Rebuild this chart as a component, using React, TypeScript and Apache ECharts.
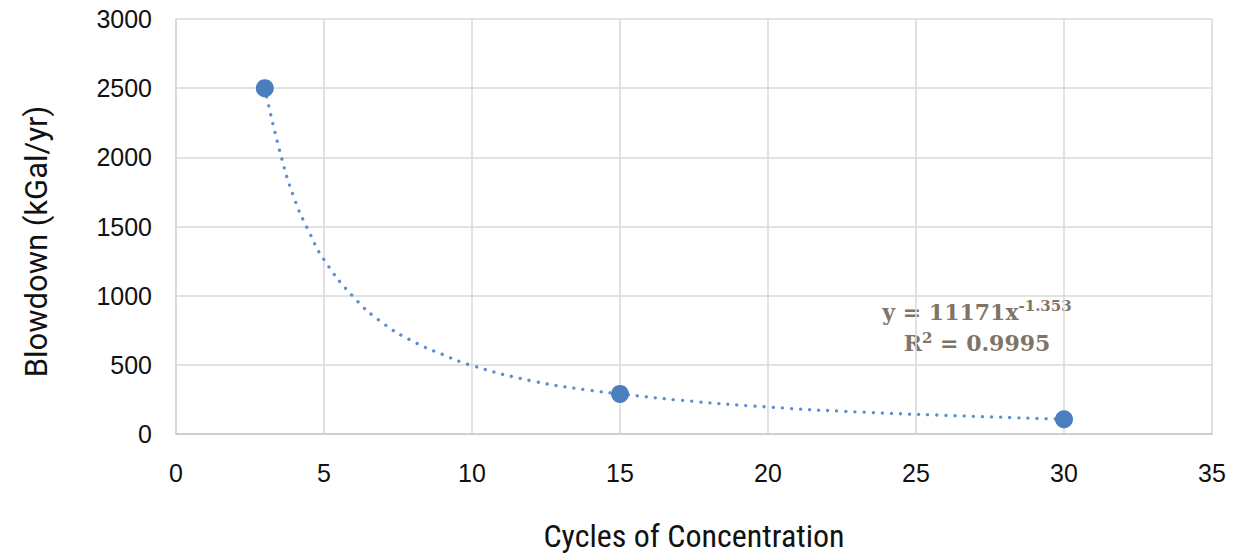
import React, { useEffect, useRef } from "react";
import * as echarts from "echarts";

const pointX = [3, 15, 30];
const pointY = [2500, 290, 107];

const trendX = [3, 3.5, 4, 4.5, 5, 6, 7, 8, 9, 10, 12, 14, 15, 17, 20, 23, 26, 30];
const trendY = [2500, 2050, 1700, 1460, 1260, 990, 800, 670, 575, 495, 385, 315, 290, 245, 195, 160, 135, 107];

const xTicks = [0, 5, 10, 15, 20, 25, 30, 35];
const yTicks = [0, 500, 1000, 1500, 2000, 2500, 3000];

const equationMain = "y = 11171x";
const equationExp = "-1.353";
const r2Base = "R";
const r2Exp = "2";
const r2Rest = " = 0.9995";

export default function App() {
  const ref = useRef<HTMLDivElement>(null);
  useEffect(() => {
    document.body.style.margin = "0";
    const chart = echarts.init(ref.current!, null, { renderer: "svg" });
    const sans = "'Liberation Sans', Arial, sans-serif";
    const narrow = "'Liberation Sans Narrow', 'Roboto Condensed', Roboto, sans-serif";
    const serif = "'DejaVu Serif', 'Liberation Serif', serif";
    const textColor = "#807467";
    chart.setOption({
      animation: false,
      grid: { left: 176, right: 31, top: 19, bottom: 120 },
      xAxis: {
        type: "value",
        min: xTicks[0],
        max: xTicks[xTicks.length - 1],
        interval: 5,
        name: "Cycles of Concentration",
        nameLocation: "middle",
        nameGap: 86,
        nameTextStyle: { fontFamily: narrow, fontSize: 32, color: "#111" },
        axisLine: { show: true, lineStyle: { color: "#c8c8c8", width: 1.5 } },
        axisTick: { show: false },
        axisLabel: { fontFamily: sans, fontSize: 25, color: "#111", margin: 26, formatter: (v: number) => String(v) },
        splitLine: { show: true, lineStyle: { color: "#d9d9d9", width: 1.5 } },
      },
      yAxis: {
        type: "value",
        min: yTicks[0],
        max: yTicks[yTicks.length - 1],
        interval: 500,
        name: "Blowdown (kGal/yr)",
        nameLocation: "middle",
        nameGap: 124,
        nameTextStyle: { fontFamily: "Roboto, sans-serif", fontSize: 31, color: "#111", padding: [0, 30, 0, 0] },
        axisLine: { show: true, lineStyle: { color: "#d9d9d9", width: 1.5 } },
        axisTick: { show: false },
        axisLabel: { fontFamily: sans, fontSize: 25, color: "#111", margin: 24, formatter: (v: number) => String(v) },
        splitLine: { show: true, lineStyle: { color: "#d9d9d9", width: 1.5 } },
      },
      series: [
        {
          type: "line",
          data: trendX.map((x, i) => [x, trendY[i]]),
          smooth: 0.5,
          showSymbol: false,
          symbol: "none",
          lineStyle: { color: "#5b8fd0", width: 3.3, type: [0.1, 9], cap: "round" },
          z: 2,
        },
        {
          type: "scatter",
          data: pointX.map((x, i) => [x, pointY[i]]),
          symbolSize: 18,
          itemStyle: { color: "#4a7ebd", opacity: 1 },
          z: 3,
        },
      ],
      graphic: [
        {
          type: "text",
          x: 977,
          y: 312,
          style: {
            text: `{m|${equationMain}}{s|${equationExp}}`,
            align: "center",
            verticalAlign: "middle",
            rich: {
              m: { fontFamily: serif, fontSize: 22, fontWeight: "bold", fill: textColor, color: textColor },
              s: { fontFamily: serif, fontSize: 15, fontWeight: "bold", fill: textColor, color: textColor, verticalAlign: "top", padding: [0, 0, 12, 0] },
            },
          },
        },
        {
          type: "text",
          x: 977,
          y: 343,
          style: {
            text: `{m|${r2Base}}{s|${r2Exp}}{m|${r2Rest}}`,
            align: "center",
            verticalAlign: "middle",
            rich: {
              m: { fontFamily: serif, fontSize: 22, fontWeight: "bold", fill: textColor, color: textColor },
              s: { fontFamily: serif, fontSize: 15, fontWeight: "bold", fill: textColor, color: textColor, verticalAlign: "top", padding: [0, 0, 10, 0] },
            },
          },
        },
      ],
    });
    return () => chart.dispose();
  }, []);
  return <div ref={ref} style={{ width: 1243, height: 557 }} />;
}
